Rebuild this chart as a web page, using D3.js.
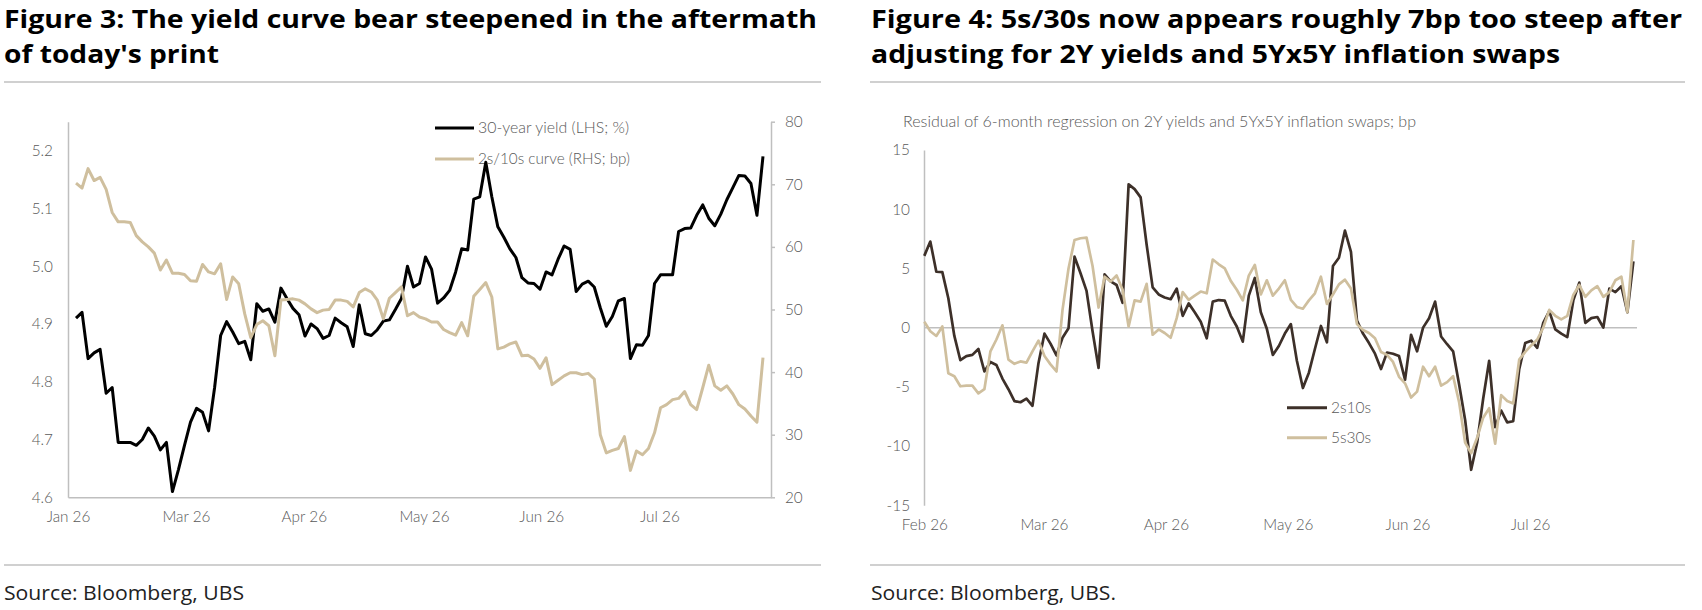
<!DOCTYPE html>
<html><head><meta charset="utf-8">
<script src="https://cdn.jsdelivr.net/npm/d3@7/dist/d3.min.js"></script>
<style>
html,body{margin:0;padding:0;background:#fff;}
svg{display:block;}
</style></head><body>
<svg id="c" width="1702" height="610"></svg>
<script>
// ---------------- Figure 3 data ----------------
const xLabels1 = ["Jan 26","Mar 26","Apr 26","May 26","Jun 26","Jul 26"];
const xLabelPos1 = [-1.33, 18.25, 37.8, 57.75, 77.2, 96.8];   // observation index of each label
const yTicksLeft1 = [4.6, 4.7, 4.8, 4.9, 5.0, 5.1, 5.2];
const yTicksRight1 = [20, 30, 40, 50, 60, 70, 80];
const seriesNames1 = ["30-year yield (LHS; %)", "2s/10s curve (RHS; bp)"];
const yield30 = [4.91,4.92,4.84,4.85,4.856,4.78,4.79,4.695,4.695,4.695,
  4.69,4.70,4.72,4.706,4.682,4.695,4.61,4.648,4.69,4.73,
  4.754,4.747,4.715,4.79,4.88,4.904,4.886,4.866,4.87,4.838,
  4.935,4.922,4.926,4.903,4.962,4.944,4.927,4.916,4.879,4.90,
  4.892,4.875,4.88,4.91,4.902,4.895,4.861,4.933,4.883,4.880,
  4.89,4.905,4.907,4.925,4.944,5.00,4.964,4.97,5.016,4.995,
  4.936,4.945,4.958,4.99,5.03,5.028,5.116,5.12,5.18,5.12,
  5.068,5.05,5.03,5.015,4.98,4.971,4.97,4.96,4.99,4.985,
  5.012,5.035,5.029,4.956,4.969,4.974,4.964,4.928,4.896,4.913,
  4.94,4.944,4.84,4.864,4.863,4.88,4.97,4.985,4.985,4.985,
  5.06,5.065,5.066,5.088,5.106,5.083,5.07,5.09,5.115,5.136,
  5.157,5.156,5.143,5.088,5.19];
const curve2s10s = [70.2,69.4,72.5,70.6,71.1,69.2,65.5,64.0,64.0,63.9,
  61.8,60.8,60.0,59.0,56.3,57.9,55.8,55.8,55.6,54.6,
  54.5,57.2,56.0,55.7,57.3,51.6,55.2,54.1,49.3,45.5,
  47.6,48.2,47.4,42.6,51.5,51.6,51.7,51.5,50.9,50.1,
  49.5,49.9,50.0,51.5,51.5,51.3,50.4,52.7,53.3,52.8,
  51.5,48.5,51.8,52.7,53.6,49.0,49.5,48.8,48.5,48.0,
  48.0,46.8,46.3,45.9,47.9,45.8,52.1,53.2,54.3,52.0,
  43.7,44.0,44.5,44.8,42.6,42.7,42.1,40.6,42.3,38.0,
  38.7,39.4,39.9,39.9,39.6,39.8,38.9,30.0,27.1,27.5,
  27.8,29.7,24.3,27.4,26.8,27.8,30.3,34.3,34.8,35.6,
  35.8,36.9,34.8,34.0,37.5,41.1,37.8,37.1,37.8,36.5,
  34.8,34.1,33.0,32.0,42.3];

// ---------------- Figure 4 data ----------------
const xLabels2 = ["Feb 26","Mar 26","Apr 26","May 26","Jun 26","Jul 26"];
const xLabelPos2 = [0, 19.9, 40.2, 60.5, 80.4, 100.8];
const yTicks2 = [-15, -10, -5, 0, 5, 10, 15];
const seriesNames2 = ["2s10s", "5s30s"];
const resid2s10s = [6.06,7.27,4.72,4.69,2.48,-0.7,-2.75,-2.4,-2.3,-1.8,
  -3.7,-2.9,-3.15,-4.3,-5.2,-6.2,-6.3,-6.0,-6.6,-3.0,
  -0.5,-1.35,-2.35,-0.85,-0.05,6.0,4.6,3.1,-0.3,-3.4,
  4.5,3.9,3.6,2.1,12.1,11.7,11.0,7.0,3.4,2.8,
  2.55,2.4,3.3,1.0,2.05,1.3,0.5,-0.9,2.2,2.33,
  2.28,1.0,0.1,-1.18,2.7,4.2,1.3,-0.1,-2.3,-1.55,
  -0.5,0.3,-2.8,-5.1,-3.8,-1.8,0.14,-1.24,5.2,5.9,
  8.2,6.4,0.6,-0.5,-1.3,-2.2,-3.5,-2.1,-2.2,-2.4,
  -4.4,-0.6,-2.0,0.0,0.8,2.2,-0.75,-1.4,-2.0,-4.8,
  -7.8,-12.0,-9.7,-6.0,-2.8,-8.4,-7.0,-8.0,-7.9,-3.5,
  -1.3,-1.1,-1.7,0.4,1.4,-0.15,-0.5,-0.8,2.3,3.8,
  0.4,0.8,0.9,0.0,3.3,3.0,3.5,1.3,5.6];
const resid5s30s = [0.5,-0.3,-0.7,0.1,-3.85,-4.1,-4.95,-4.9,-4.9,-5.55,
  -5.2,-2.0,-1.0,0.2,-2.7,-3.05,-2.85,-2.95,-2.0,-1.1,
  -2.4,-3.1,-3.7,1.5,5.0,7.4,7.55,7.6,5.2,1.7,
  4.3,3.9,4.4,3.2,0.1,2.3,2.2,3.7,-0.6,-0.15,
  -0.45,-0.85,0.8,3.0,2.35,2.7,3.05,2.9,5.75,5.35,
  5.0,3.95,3.2,2.3,4.4,5.3,2.8,4.0,2.7,3.3,
  4.0,2.34,1.75,1.6,2.3,2.9,4.3,2.0,2.8,3.65,
  4.05,3.3,0.3,-0.2,-0.45,-0.9,-2.05,-2.3,-2.9,-4.15,
  -4.7,-5.9,-5.4,-3.3,-4.1,-3.3,-4.9,-4.6,-4.1,-6.3,
  -9.7,-10.6,-9.3,-7.6,-6.8,-9.8,-5.7,-6.2,-6.4,-2.7,
  -2.05,-1.5,-1.0,0.0,1.5,1.0,0.7,1.0,2.76,3.6,
  2.6,3.15,3.5,2.6,3.0,4.0,4.3,1.3,7.4];

// ---------------- styling ----------------
const AX = "#BFBFBF", TXT = "#595959", BLACK = "#000000", SAND = "#CFBF9E", BROWN = "#3D3029";
const UI = "Lato, 'Open Sans', sans-serif";
const HEAD = "'Open Sans', 'Noto Sans', Lato, sans-serif";

const svg = d3.select("#c");
svg.append("rect").attr("width",1702).attr("height",610).attr("fill","#fff");

function fitText(x, y, str, len, size, weight, family, fill) {
  return svg.append("text").attr("x", x).attr("y", y).text(str)
    .attr("font-family", family).attr("font-size", size).attr("font-weight", weight)
    .attr("fill", fill).attr("textLength", len).attr("lengthAdjust", "spacingAndGlyphs");
}
function rule(x1, x2, y) {
  svg.append("line").attr("x1", x1).attr("x2", x2).attr("y1", y).attr("y2", y)
    .attr("stroke", "#D0D0D0").attr("stroke-width", 2);
}
function styleAxis(g) {
  g.attr("font-family", UI).attr("font-size", 15.3).attr("font-weight", 300);
  g.select(".domain").attr("stroke", AX).attr("stroke-width", 1.5);
  g.selectAll(".tick line").attr("stroke", AX).attr("stroke-width", 1.5);
  g.selectAll(".tick text").attr("fill", TXT);
}

// ---------------- headers / footers ----------------
fitText(4, 28, "Figure 3: The yield curve bear steepened in the aftermath", 813, 25, 700, HEAD, "#000");
fitText(4, 63, "of today's print", 215, 25, 700, HEAD, "#000");
fitText(871, 28, "Figure 4: 5s/30s now appears roughly 7bp too steep after", 811, 25, 700, HEAD, "#000");
fitText(871, 63, "adjusting for 2Y yields and 5Yx5Y inflation swaps", 689, 25, 700, HEAD, "#000");
rule(4, 821, 82); rule(870, 1685, 82);
rule(4, 821, 565); rule(870, 1685, 565);
fitText(4, 600, "Source: Bloomberg, UBS", 240, 19.5, 400, HEAD, "#222");
fitText(871, 600, "Source: Bloomberg, UBS.", 245, 19.5, 400, HEAD, "#222");

// ---------------- Figure 3 ----------------
const x1 = d3.scaleLinear().domain([-1.33, 115.33]).range([68, 771]);
const yL = d3.scaleLinear().domain([4.6, 5.25]).range([497.3, 121.7]);
const yR = d3.scaleLinear().domain([20, 80]).range([497.3, 121.7]);

svg.append("g").attr("transform", "translate(68,0)")
  .call(d3.axisLeft(yL).tickValues(yTicksLeft1).tickFormat(d3.format(".1f"))
    .tickSize(0).tickPadding(15).tickSizeOuter(0))
  .call(styleAxis);
svg.append("g").attr("transform", "translate(771,0)")
  .call(d3.axisRight(yR).tickValues(yTicksRight1).tickFormat(d => String(d))
    .tickSize(4).tickPadding(10).tickSizeOuter(0))
  .call(styleAxis);
svg.append("g").attr("transform", "translate(0,497.3)")
  .call(d3.axisBottom(x1).tickValues(xLabelPos1).tickFormat((d, i) => xLabels1[i])
    .tickSize(0).tickPadding(14).tickSizeOuter(0))
  .call(styleAxis);

// legend
const leg1 = [{name: seriesNames1[0], color: BLACK, y: 128, w: 151}, {name: seriesNames1[1], color: SAND, y: 159, w: 152}];
leg1.forEach(l => {
  svg.append("line").attr("x1", 435).attr("x2", 474).attr("y1", l.y).attr("y2", l.y)
    .attr("stroke", l.color).attr("stroke-width", 3);
  svg.append("text").attr("x", 478).attr("y", l.y).attr("dy", "0.35em").text(l.name)
    .attr("font-family", UI).attr("font-size", 15.5).attr("font-weight", 300).attr("fill", TXT)
    .attr("textLength", l.w).attr("lengthAdjust", "spacingAndGlyphs");
});

const lineL = d3.line().x((d, i) => x1(i)).y(d => yL(d));
const lineR = d3.line().x((d, i) => x1(i)).y(d => yR(d));
svg.append("path").datum(yield30).attr("d", lineL).attr("fill", "none")
  .attr("stroke", BLACK).attr("stroke-width", 3).attr("stroke-linejoin", "round");
svg.append("path").datum(curve2s10s).attr("d", lineR).attr("fill", "none")
  .attr("stroke", SAND).attr("stroke-width", 3).attr("stroke-linejoin", "round");

// ---------------- Figure 4 ----------------
svg.append("text").attr("x", 903).attr("y", 127)
  .text("Residual of 6-month regression on 2Y yields and 5Yx5Y inflation swaps; bp")
  .attr("font-family", UI).attr("font-size", 15.3).attr("font-weight", 300).attr("fill", TXT)
  .attr("textLength", 513).attr("lengthAdjust", "spacingAndGlyphs");

const x2 = d3.scaleLinear().domain([0, 118]).range([924.3, 1633.4]);
const y2 = d3.scaleLinear().domain([-15, 15]).range([505.3, 150]);

svg.append("g").attr("transform", "translate(924,0)")
  .call(d3.axisLeft(y2).tickValues(yTicks2).tickFormat(d => String(d))
    .tickSize(0).tickPadding(14).tickSizeOuter(0))
  .call(styleAxis);
const gx2 = svg.append("g").attr("transform", "translate(0,505.3)")
  .call(d3.axisBottom(x2).tickValues(xLabelPos2).tickFormat((d, i) => xLabels2[i])
    .tickSize(0).tickPadding(14).tickSizeOuter(0))
  .call(styleAxis);
gx2.select(".domain").remove();

// zero line
svg.append("line").attr("x1", x2(-0.05)).attr("x2", x2(118.6)).attr("y1", y2(0)).attr("y2", y2(0))
  .attr("stroke", AX).attr("stroke-width", 1.5);

// legend
const leg2 = [{name: seriesNames2[0], color: BROWN, y: 407.7}, {name: seriesNames2[1], color: SAND, y: 437.7}];
leg2.forEach(l => {
  svg.append("line").attr("x1", 1287).attr("x2", 1327).attr("y1", l.y).attr("y2", l.y)
    .attr("stroke", l.color).attr("stroke-width", 3);
  svg.append("text").attr("x", 1331).attr("y", l.y).attr("dy", "0.35em").text(l.name)
    .attr("font-family", UI).attr("font-size", 15.5).attr("font-weight", 300).attr("fill", TXT);
});

const line2 = d3.line().x((d, i) => x2(i)).y(d => y2(d));
svg.append("path").datum(resid2s10s).attr("d", line2).attr("fill", "none")
  .attr("stroke", BROWN).attr("stroke-width", 2.7).attr("stroke-linejoin", "round");
svg.append("path").datum(resid5s30s).attr("d", line2).attr("fill", "none")
  .attr("stroke", SAND).attr("stroke-width", 2.7).attr("stroke-linejoin", "round");
</script>
</body></html>
